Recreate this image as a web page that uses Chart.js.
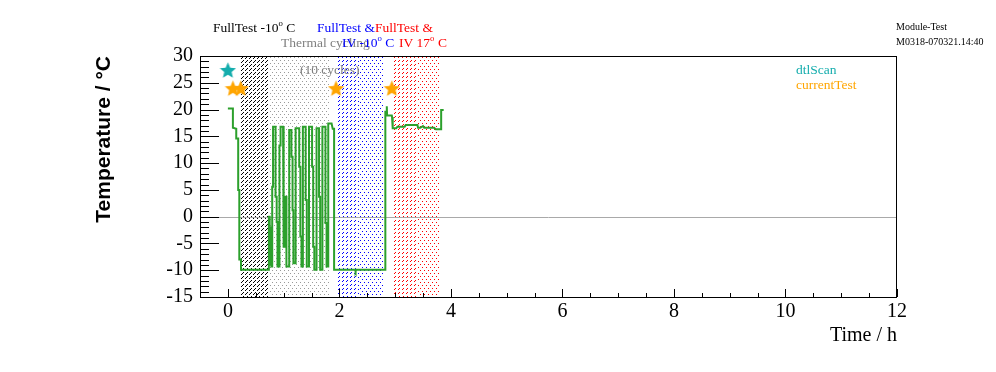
<!DOCTYPE html>
<html lang="en">
<head>
  <meta charset="UTF-8">
  <title>Module-Test M0318 temperature</title>
  <script src="https://cdn.jsdelivr.net/npm/chart.js"></script>
  <style>
    html, body { margin: 0; padding: 0; background: #fff; }
    #wrap { width: 996px; height: 372px; }
  </style>
</head>
<body>
<div id="wrap"><canvas id="tempChart" width="996" height="372"></canvas></div>

<script>
  // temperature log: hours since start / deg C
  const tempHours = [
    0.00, 0.09, 0.09, 0.15, 0.15, 0.185, 0.185, 0.205, 0.205, 0.235, 0.235, 0.735,
    0.735, 0.75, 0.75, 0.765, 0.765, 0.78, 0.78, 0.795, 0.795, 0.81, 0.81, 0.855,
    0.855, 0.875, 0.875, 0.89, 0.89, 0.925, 0.925, 0.945, 0.945, 0.99, 0.99, 1.005,
    1.005, 1.03, 1.03, 1.05, 1.05, 1.10, 1.10, 1.14, 1.14, 1.16, 1.16, 1.175,
    1.175, 1.215, 1.215, 1.28, 1.28, 1.30, 1.30, 1.32, 1.32, 1.345, 1.345, 1.395,
    1.395, 1.415, 1.415, 1.455, 1.455, 1.51, 1.51, 1.53, 1.53, 1.55, 1.55, 1.59,
    1.59, 1.635, 1.635, 1.655, 1.655, 1.695, 1.695, 1.75, 1.75, 1.77, 1.77, 1.80,
    1.80, 1.86, 1.88, 1.905, 1.905,
    2.28, 2.29, 2.30, 2.824, 2.824, 2.845, 2.85, 2.855, 2.94, 2.944, 2.956, 2.956,
    3.02, 3.04, 3.17, 3.19, 3.40, 3.41, 3.45, 3.50, 3.52, 3.70, 3.73, 3.825, 3.825, 3.87
  ];
  const tempValues = [
    20.2, 20.2, 16.6, 16.4, 14.6, 14.6, 5.0, 5.0, -8.0, -8.0, -9.9, -9.9,
    0.0, 0.0, -9.0, -9.0, -2.0, -2.0, -9.3, -9.3, 5.6, 5.6, 16.8, 16.8,
    3.7, 3.7, -1.0, -1.0, -9.3, -9.3, 13.3, 13.3, 16.8, 16.8, 3.7, 3.7,
    -5.6, -5.6, 3.7, 3.7, -9.3, -9.3, 16.2, 16.2, 11.2, 11.2, 1.2, 1.2,
    -8.7, -8.7, 16.5, 16.5, 9.3, 9.3, -3.7, -3.7, -9.3, -9.3, 16.8, 16.8,
    3.1, 3.1, -9.3, -9.3, 16.8, 16.8, 9.3, 9.3, -5.6, -5.6, -9.9, -9.9,
    16.5, 16.5, 3.7, 3.7, -9.9, -9.9, 16.8, 16.8, -1.2, -1.2, -9.3, -9.3,
    17.4, 17.4, 16.4, 16.4, -9.9,
    -9.9, -10.2, -9.9, -9.9, 19.6, 19.6, 20.6, 18.9, 18.9, 18.6, 18.6, 16.5,
    16.5, 16.8, 16.8, 17.1, 17.1, 16.6, 16.6, 16.9, 16.6, 16.6, 16.3, 16.3, 19.9, 19.9
  ];

  // test markers
  const dtlScanHours = [0.0];
  const dtlScanTemps = [27.3];
  const currentTestHours = [0.09, 0.23, 1.94, 2.94];
  const currentTestTemps = [23.9, 23.9, 23.9, 23.9];

  // shaded test phases (hours)
  const bandFrom = [0.24, 0.73, 1.94, 2.36, 2.97, 3.40];
  const bandTo   = [0.73, 1.83, 2.36, 2.80, 3.40, 3.81];

  const xTickValues = [0, 2, 4, 6, 8, 10, 12];
  const yTickValues = [-15, -10, -5, 0, 5, 10, 15, 20, 25, 30];

  const serif = "'Liberation Serif', 'Times New Roman', serif";
  const green = '#2ca02c';
  const cyan = '#14adad';
  const orange = '#ffa500';

  // dot tiles for the band fills: [color, tile w, tile h, dots]
  const dense = [[3, 0], [2, 1], [1, 2]];
  const hatch = [[3, 0], [2, 1]];
  const grid = [[0, 0], [2, 3]];
  const bandStyles = [
    ['#000000', 4, 4, dense],
    ['#9a9a9a', 4, 6, grid],
    ['#0000ff', 4, 4, hatch],
    ['#0000ff', 4, 6, grid],
    ['#ff0000', 4, 4, hatch],
    ['#ff0000', 4, 6, grid]
  ];

  function fillDots(c, style, x0, y0, x1, y1) {
    const [color, tw, th, dots] = style;
    c.fillStyle = color;
    for (let py = y0; py < y1; py++) {
      for (let px = x0; px < x1; px++) {
        const tx = px % tw, ty = py % th;
        if (dots.some(d => d[0] === tx && d[1] === ty)) c.fillRect(px, py, 1, 1);
      }
    }
  }

  function starImage(color) {
    const c = document.createElement('canvas');
    c.width = 17; c.height = 17;
    const g = c.getContext('2d');
    g.fillStyle = color;
    g.beginPath();
    for (let i = 0; i < 10; i++) {
      const r = i % 2 === 0 ? 8.5 : 3.9;
      const a = -Math.PI / 2 + i * Math.PI / 5;
      g.lineTo(8.5 + r * Math.cos(a), 8.8 + r * Math.sin(a));
    }
    g.closePath();
    g.fill();
    return c;
  }

  // text with a raised small "o" for the degree sign, like the original
  function drawRich(c, parts, x, y, size, color) {
    c.fillStyle = color;
    c.textBaseline = 'middle';
    c.textAlign = 'left';
    parts.forEach(p => {
      const sup = p[1];
      c.font = (sup ? size * 0.65 : size) + 'px ' + serif;
      c.fillText(p[0], x, sup ? y - size * 0.33 : y);
      x += c.measureText(p[0]).width;
    });
  }

  const bandsPlugin = {
    id: 'bands',
    beforeDatasetsDraw(chart) {
      const { ctx: c, chartArea: a, scales: { x, y } } = chart;
      c.save();
      bandFrom.forEach((from, i) => {
        const x0 = Math.round(x.getPixelForValue(from));
        const x1 = Math.round(x.getPixelForValue(bandTo[i]));
        fillDots(c, bandStyles[i], x0, Math.round(a.top) + 1, x1, Math.round(a.bottom));
      });
      // zero line
      const y0 = Math.round(y.getPixelForValue(0)) + 0.5;
      c.strokeStyle = '#a9a9a9';
      c.lineWidth = 1;
      c.beginPath();
      c.moveTo(a.left, y0);
      c.lineTo(a.right, y0);
      c.stroke();
      c.restore();
    }
  };

  const framePlugin = {
    id: 'frame',
    afterDatasetsDraw(chart) {
      const { ctx: c, chartArea: a, scales: { x, y } } = chart;
      c.save();
      c.strokeStyle = '#000';
      c.lineWidth = 1;
      c.beginPath();
      for (let v = y.min; v <= y.max; v += 1) {
        const py = Math.round(y.getPixelForValue(v)) + 0.5;
        const len = v % 5 === 0 ? 19 : 9;
        c.moveTo(a.left, py);
        c.lineTo(a.left + len, py);
      }
      for (let v = x.min; v <= x.max; v += 0.5) {
        const px = Math.round(x.getPixelForValue(v)) + 0.5;
        const len = v % 2 === 0 ? 8 : 4;
        c.moveTo(px, a.bottom);
        c.lineTo(px, a.bottom - len);
      }
      c.stroke();
      c.strokeRect(Math.round(a.left) + 0.5, Math.round(a.top) + 0.5,
                   Math.round(a.right - a.left) - 1, Math.round(a.bottom - a.top));
      c.restore();
    },
    afterDraw(chart) {
      const c = chart.ctx;
      c.save();
      drawRich(c, [['FullTest -10'], ['o', true], [' C']], 213, 28, 13.5, '#000');
      drawRich(c, [['Thermal cycling']], 281, 43, 13.5, '#808080');
      drawRich(c, [['(10 cycles)']], 300, 70, 13.5, '#808080');
      drawRich(c, [['FullTest &']], 317, 28, 13.5, '#0000ff');
      drawRich(c, [['IV -10'], ['o', true], [' C']], 342, 43, 13.5, '#0000ff');
      drawRich(c, [['FullTest &']], 375, 28, 13.5, '#ff0000');
      drawRich(c, [['IV 17'], ['o', true], [' C']], 399, 43, 13.5, '#ff0000');
      drawRich(c, [['dtlScan']], 796, 70, 13.5, cyan);
      drawRich(c, [['currentTest']], 796, 85, 13.5, orange);
      drawRich(c, [['Module-Test']], 896, 27, 10, '#000');
      drawRich(c, [['M0318-070321.14:40']], 896, 42, 10, '#000');
      c.restore();
    }
  };

  new Chart(document.getElementById('tempChart'), {
    type: 'line',
    data: {
      datasets: [
        {
          label: 'Temperature',
          data: tempHours.map((h, i) => ({ x: h, y: tempValues[i] })),
          borderColor: green,
          borderWidth: 2,
          pointRadius: 0,
          fill: false,
          tension: 0
        },
        {
          type: 'scatter',
          label: 'dtlScan',
          data: dtlScanHours.map((h, i) => ({ x: h, y: dtlScanTemps[i] })),
          pointStyle: starImage(cyan)
        },
        {
          type: 'scatter',
          label: 'currentTest',
          data: currentTestHours.map((h, i) => ({ x: h, y: currentTestTemps[i] })),
          pointStyle: starImage(orange)
        }
      ]
    },
    options: {
      responsive: false,
      animation: false,
      devicePixelRatio: 1,
      layout: { padding: { left: 0, right: 99, top: 56, bottom: 0 } },
      plugins: {
        legend: { display: false },
        tooltip: { enabled: false }
      },
      scales: {
        x: {
          type: 'linear',
          min: -0.5,
          max: 12,
          afterFit(s) { s.height = 75; },
          afterBuildTicks(s) { s.ticks = xTickValues.map(v => ({ value: v })); },
          grid: { display: false, drawTicks: false },
          border: { display: false },
          ticks: {
            font: { family: serif, size: 20 },
            color: '#000',
            padding: 3,
            maxRotation: 0,
            autoSkip: false
          },
          title: {
            display: true,
            text: 'Time / h',
            align: 'end',
            color: '#000',
            font: { family: serif, size: 20 },
            padding: { top: 0, bottom: 24 }
          }
        },
        y: {
          type: 'linear',
          min: -15,
          max: 30,
          afterFit(s) { s.width = 200; },
          afterBuildTicks(s) { s.ticks = yTickValues.map(v => ({ value: v })); },
          grid: { display: false, drawTicks: false },
          border: { display: false },
          ticks: {
            font: { family: serif, size: 20 },
            color: '#000',
            padding: 7,
            autoSkip: false
          },
          title: {
            display: true,
            text: 'Temperature / °C',
            align: 'end',
            color: '#000',
            font: { family: "'Liberation Sans', Arial, sans-serif", size: 21, weight: 'bold' },
            padding: { top: 92, bottom: 0 }
          }
        }
      }
    },
    plugins: [bandsPlugin, framePlugin]
  });
</script>
</body>
</html>
